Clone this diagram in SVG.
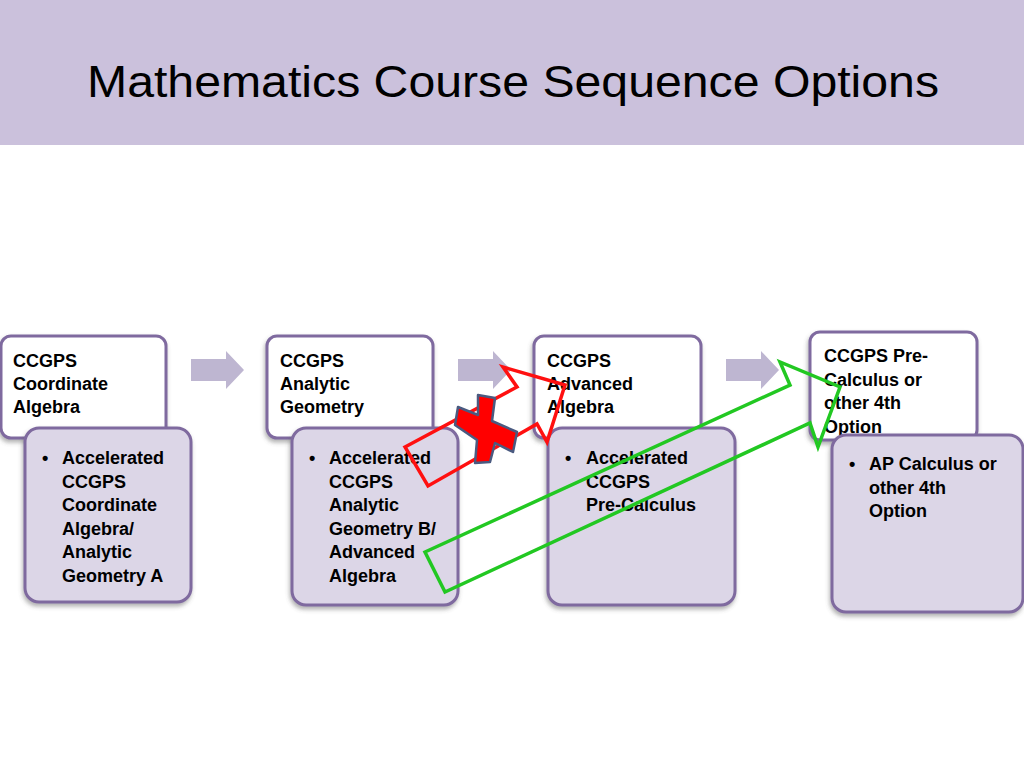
<svg xmlns="http://www.w3.org/2000/svg" width="1024" height="768" viewBox="0 0 1024 768">
<defs>
<filter id="sh" x="-10%" y="-10%" width="120%" height="130%">
<feDropShadow dx="-1" dy="3" stdDeviation="2" flood-color="#555" flood-opacity="0.45"/>
</filter>
<style>
.top{fill:#FFFFFF;stroke:#7F6A9F;stroke-width:3;filter:url(#sh)}
.low{fill:#DCD6E7;stroke:#7F6A9F;stroke-width:3;filter:url(#sh)}
.t{font-family:"Liberation Sans",Arial,sans-serif;font-weight:bold;font-size:18px;fill:#000}
.arr{fill:#BEB6D1}
.title{font-family:"Liberation Sans",Arial,sans-serif;font-size:44px;fill:#000}
</style>
</defs>
<rect x="0" y="0" width="1024" height="768" fill="#FFFFFF"/>
<rect x="0" y="0" width="1024" height="145" fill="#CBC1DC"/>
<text class="title" x="87" y="97" textLength="852" lengthAdjust="spacingAndGlyphs">Mathematics Course Sequence Options</text>

<g id="connectors">
<polygon class="arr" points="191,359 226,359 226,351 244,370 226,389 226,381 191,381"/>
<polygon class="arr" points="458,359 493,359 493,351 511,370 493,389 493,381 458,381"/>
<polygon class="arr" points="726,359 761,359 761,351 779,370 761,389 761,381 726,381"/>
</g>

<g id="node1">
<rect class="top" x="1" y="336" width="165" height="102" rx="10"/>
<text class="t" x="13" y="367">CCGPS</text>
<text class="t" x="13" y="390">Coordinate</text>
<text class="t" x="13" y="413">Algebra</text>
</g>
<g id="node1b">
<rect class="low" x="25" y="428" width="166" height="174" rx="14"/>
<text class="t" x="42" y="464">•</text>
<text class="t" x="62" y="464">Accelerated</text>
<text class="t" x="62" y="487.5">CCGPS</text>
<text class="t" x="62" y="511">Coordinate</text>
<text class="t" x="62" y="534.5">Algebra/</text>
<text class="t" x="62" y="558">Analytic</text>
<text class="t" x="62" y="581.5">Geometry A</text>
</g>

<g id="node2">
<rect class="top" x="267" y="336" width="166" height="102" rx="10"/>
<text class="t" x="280" y="367">CCGPS</text>
<text class="t" x="280" y="390">Analytic</text>
<text class="t" x="280" y="413">Geometry</text>
</g>
<g id="node2b">
<rect class="low" x="292" y="428" width="166" height="177" rx="14"/>
<text class="t" x="309" y="464">•</text>
<text class="t" x="329" y="464">Accelerated</text>
<text class="t" x="329" y="487.5">CCGPS</text>
<text class="t" x="329" y="511">Analytic</text>
<text class="t" x="329" y="534.5">Geometry B/</text>
<text class="t" x="329" y="558">Advanced</text>
<text class="t" x="329" y="581.5">Algebra</text>
</g>

<g id="node3">
<rect class="top" x="534" y="336" width="167" height="102" rx="10"/>
<text class="t" x="547" y="367">CCGPS</text>
<text class="t" x="547" y="390">Advanced</text>
<text class="t" x="547" y="413">Algebra</text>
</g>
<g id="node3b">
<rect class="low" x="548" y="428" width="187" height="177" rx="14"/>
<text class="t" x="565" y="464">•</text>
<text class="t" x="586" y="464">Accelerated</text>
<text class="t" x="586" y="487.5">CCGPS</text>
<text class="t" x="586" y="511">Pre-Calculus</text>
</g>

<g id="node4">
<rect class="top" x="810" y="332" width="167" height="108" rx="10"/>
<text class="t" x="824" y="362">CCGPS Pre-</text>
<text class="t" x="824" y="385.5">Calculus or</text>
<text class="t" x="824" y="409">other 4th</text>
<text class="t" x="824" y="432.5">Option</text>
</g>
<g id="node4b">
<rect class="low" x="832" y="435" width="191" height="177" rx="14"/>
<text class="t" x="849" y="470">•</text>
<text class="t" x="869" y="470">AP Calculus or</text>
<text class="t" x="869" y="494">other 4th</text>
<text class="t" x="869" y="517">Option</text>
</g>

<g id="overlay">
<polygon points="405,447 517,387 503,367 565,385 547,442 537,424 428,486" fill="none" stroke="#FF1010" stroke-width="3.5" stroke-linejoin="miter"/>
<polygon points="478,395 495,398 492,421 517,432 513,452 495,443 490,462 475,463 477,440 455,425 458,407 478,415" fill="#FF0000" stroke="#4A5A80" stroke-width="2.5" stroke-linejoin="round"/>
<polygon points="425,552 790,385 780,362 840,387 818,447 810,423 445,592" fill="none" stroke="#22C822" stroke-width="3.5"/>
</g>
</svg>
